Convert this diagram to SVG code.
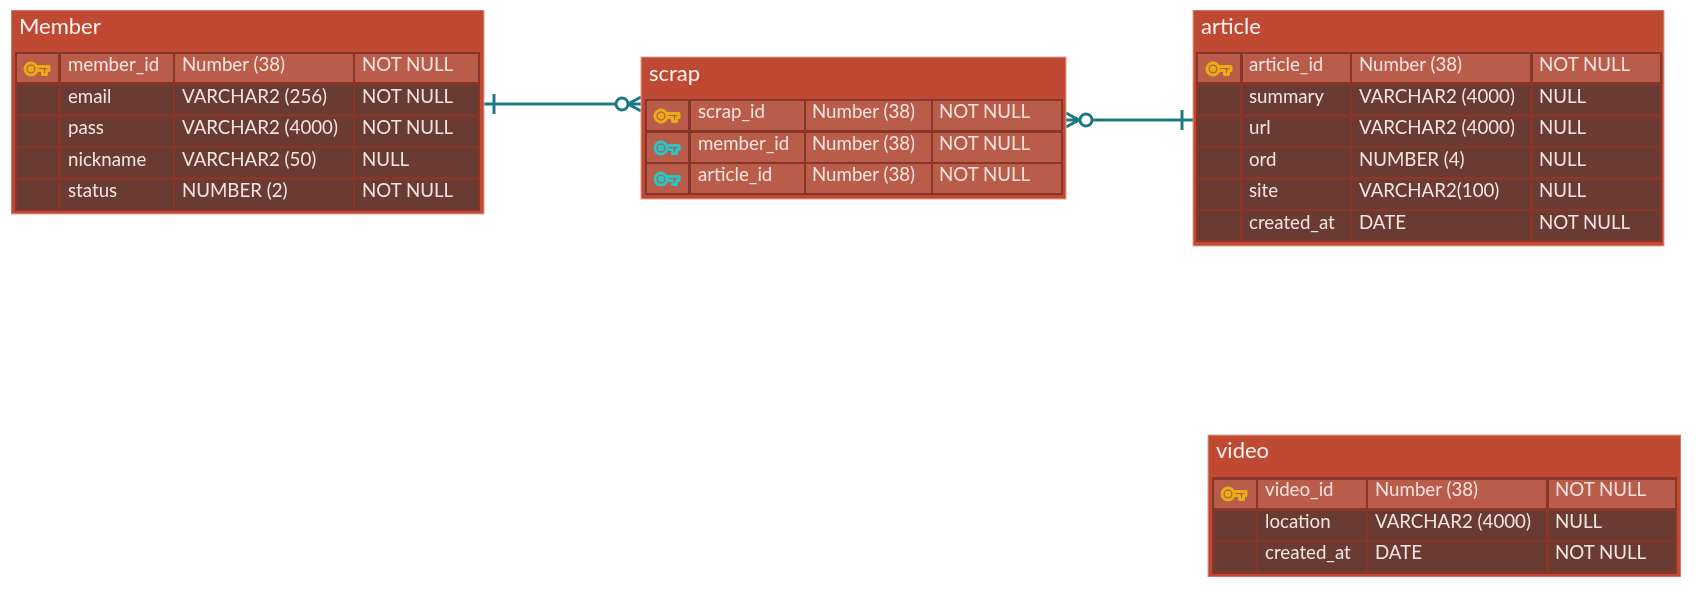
<svg xmlns="http://www.w3.org/2000/svg" width="1699" height="592" viewBox="0 0 1699 592">
<style>
text{font-family:Lato,"Open Sans","Liberation Sans",sans-serif;fill:#f3e4e0}
.t{font-size:22px;fill:#fdf3f0}
.c{font-size:18.700px}
.box{fill:#bf4830;stroke:#e0a090;stroke-width:1}
.grid{fill:#88352a}
.pk{fill:#b95c4a}
.row{fill:#693a33}
.conn{fill:none;stroke:#1f7a85;stroke-width:3}
.ki{fill:none;stroke-width:3;stroke-linejoin:round}
</style>
<defs>
<g id="key" class="ki">
<circle cx="7" cy="7" r="6"/>
<circle cx="7" cy="7" r="1.800"/>
<path d="M13 4.500H25V8.500L22.500 8.500V12.500H18.500V8.500H13"/>
</g>
<filter id="soft" x="0" y="0" width="100%" height="100%"><feGaussianBlur stdDeviation="0.500"/></filter>
</defs>
<rect width="1699" height="592" fill="#fff"/>
<g filter="url(#soft)">
<g id="connectors" class="conn">
<path d="M484 104H616"/>
<path d="M494 94V114"/>
<circle cx="622" cy="104" r="6" fill="#fff"/>
<path d="M628 104H641M628 104L641 97M628 104L641 111"/>
<path d="M1092 120H1193"/>
<path d="M1182 110V130"/>
<circle cx="1086" cy="120" r="6" fill="#fff"/>
<path d="M1066 120H1080M1079 120L1066 113M1079 120L1066 127"/>
</g>
<g id="member" transform="translate(11 10)">
<rect class="box" width="473" height="204"/>
<text class="t" x="8" y="24">Member</text>
<rect class="grid" x="4" y="42" width="465" height="159"/>
<rect class="pk" x="6" y="44" width="41" height="28"/><rect class="pk" x="50" y="44" width="112" height="28"/><rect class="pk" x="164" y="44" width="178" height="28"/><rect class="pk" x="344" y="44" width="123" height="28"/>
<path class="row" d="M6 75h41v29h-41zM50 75h112v29h-112zM164 75h178v29h-178zM344 75h123v29h-123zM6 107h41v29h-41zM50 107h112v29h-112zM164 107h178v29h-178zM344 107h123v29h-123zM6 138h41v29h-41zM50 138h112v29h-112zM164 138h178v29h-178zM344 138h123v29h-123zM6 170h41v29h-41zM50 170h112v29h-112zM164 170h178v29h-178zM344 170h123v29h-123z"/>
<use href="#key" x="13" y="52" stroke="#e8ad16"/>
<g class="c">
<text x="57" y="61">member_id</text><text x="171" y="61">Number (38)</text><text x="351" y="61">NOT NULL</text>
<text x="57" y="92.500">email</text><text x="171" y="92.500">VARCHAR2 (256)</text><text x="351" y="92.500">NOT NULL</text>
<text x="57" y="124">pass</text><text x="171" y="124">VARCHAR2 (4000)</text><text x="351" y="124">NOT NULL</text>
<text x="57" y="155.500">nickname</text><text x="171" y="155.500">VARCHAR2 (50)</text><text x="351" y="155.500">NULL</text>
<text x="57" y="187">status</text><text x="171" y="187">NUMBER (2)</text><text x="351" y="187">NOT NULL</text>
</g>
</g>
<g id="scrap" transform="translate(641 57)">
<rect class="box" width="425" height="142"/>
<text class="t" x="8" y="24">scrap</text>
<rect class="grid" x="4" y="42" width="418" height="96"/>
<path class="pk" d="M6 44h41v29h-41zM50 44h113v29h-113zM165 44h125v29h-125zM292 44h128v29h-128zM6 76h41v29h-41zM50 76h113v29h-113zM165 76h125v29h-125zM292 76h128v29h-128zM6 107h41v29h-41zM50 107h113v29h-113zM165 107h125v29h-125zM292 107h128v29h-128z"/>
<use href="#key" x="13" y="52" stroke="#e8ad16"/>
<use href="#key" x="13" y="84" stroke="#2cc4c4"/>
<use href="#key" x="13" y="115" stroke="#2cc4c4"/>
<g class="c">
<text x="57" y="61">scrap_id</text><text x="171" y="61">Number (38)</text><text x="298" y="61">NOT NULL</text>
<text x="57" y="92.500">member_id</text><text x="171" y="92.500">Number (38)</text><text x="298" y="92.500">NOT NULL</text>
<text x="57" y="124">article_id</text><text x="171" y="124">Number (38)</text><text x="298" y="124">NOT NULL</text>
</g>
</g>
<g id="article" transform="translate(1193 10)">
<rect class="box" width="471" height="236"/>
<text class="t" x="8" y="24">article</text>
<rect class="grid" x="3" y="42" width="466" height="190"/>
<rect class="pk" x="5" y="44" width="42" height="28"/><rect class="pk" x="50" y="44" width="107" height="28"/><rect class="pk" x="159" y="44" width="178" height="28"/><rect class="pk" x="340" y="44" width="127" height="28"/>
<path class="row" d="M5 75h42v29h-42zM50 75h107v29h-107zM159 75h178v29h-178zM340 75h127v29h-127zM5 107h42v29h-42zM50 107h107v29h-107zM159 107h178v29h-178zM340 107h127v29h-127zM5 138h42v29h-42zM50 138h107v29h-107zM159 138h178v29h-178zM340 138h127v29h-127zM5 170h42v29h-42zM50 170h107v29h-107zM159 170h178v29h-178zM340 170h127v29h-127zM5 201h42v29h-42zM50 201h107v29h-107zM159 201h178v29h-178zM340 201h127v29h-127z"/>
<use href="#key" x="13" y="52" stroke="#e8ad16"/>
<g class="c">
<text x="56" y="61">article_id</text><text x="166" y="61">Number (38)</text><text x="346" y="61">NOT NULL</text>
<text x="56" y="92.500">summary</text><text x="166" y="92.500">VARCHAR2 (4000)</text><text x="346" y="92.500">NULL</text>
<text x="56" y="124">url</text><text x="166" y="124">VARCHAR2 (4000)</text><text x="346" y="124">NULL</text>
<text x="56" y="155.500">ord</text><text x="166" y="155.500">NUMBER (4)</text><text x="346" y="155.500">NULL</text>
<text x="56" y="187">site</text><text x="166" y="187">VARCHAR2(100)</text><text x="346" y="187">NULL</text>
<text x="56" y="218.500">created_at</text><text x="166" y="218.500">DATE</text><text x="346" y="218.500">NOT NULL</text>
</g>
</g>
<g id="video" transform="translate(1208 435)">
<rect class="box" width="473" height="142"/>
<text class="t" x="8" y="23">video</text>
<rect class="grid" x="4" y="42" width="465" height="97"/>
<rect class="pk" x="6" y="45" width="42" height="28"/><rect class="pk" x="50" y="45" width="108" height="28"/><rect class="pk" x="160" y="45" width="178" height="28"/><rect class="pk" x="341" y="45" width="126" height="28"/>
<path class="row" d="M6 76h42v29h-42zM50 76h108v29h-108zM160 76h178v29h-178zM341 76h126v29h-126zM6 107h42v29h-42zM50 107h108v29h-108zM160 107h178v29h-178zM341 107h126v29h-126z"/>
<use href="#key" x="13" y="52" stroke="#e8ad16"/>
<g class="c">
<text x="57" y="61">video_id</text><text x="167" y="61">Number (38)</text><text x="347" y="61">NOT NULL</text>
<text x="57" y="92.500">location</text><text x="167" y="92.500">VARCHAR2 (4000)</text><text x="347" y="92.500">NULL</text>
<text x="57" y="124">created_at</text><text x="167" y="124">DATE</text><text x="347" y="124">NOT NULL</text>
</g>
</g>
</g>
</svg>
